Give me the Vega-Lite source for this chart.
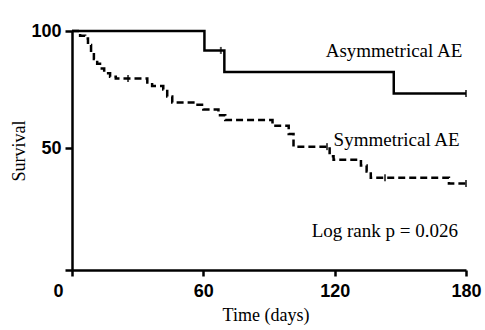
{
  "$schema": "https://vega.github.io/schema/vega-lite/v6.json",
  "width": 401,
  "height": 239,
  "autosize": "none",
  "padding": {"left": 65, "top": 31, "right": 19, "bottom": 60},
  "background": "white",
  "config": {
    "view": {"stroke": null},
    "axis": {
      "grid": false,
      "domainColor": "black",
      "domainWidth": 2.5,
      "tickColor": "black",
      "tickWidth": 2.5,
      "labelColor": "black",
      "labelFont": "Liberation Sans",
      "labelFontWeight": "bold",
      "labelFontSize": 18,
      "labelFlush": false,
      "labelOverlap": false,
      "labelBound": false,
      "titleColor": "black",
      "titleFont": "Liberation Serif",
      "titleFontWeight": "normal",
      "titleFontSize": 18
    }
  },
  "datasets": {
    "curves": [
      {"group": "Asymmetrical AE", "day": 0, "survival": 100},
      {"group": "Asymmetrical AE", "day": 60.5, "survival": 91.7},
      {"group": "Asymmetrical AE", "day": 69.6, "survival": 82.5},
      {"group": "Asymmetrical AE", "day": 147, "survival": 73.3},
      {"group": "Asymmetrical AE", "day": 180, "survival": 73.3},
      {"group": "Symmetrical AE", "day": 0, "survival": 100},
      {"group": "Symmetrical AE", "day": 3.7, "survival": 98},
      {"group": "Symmetrical AE", "day": 6, "survival": 96.8},
      {"group": "Symmetrical AE", "day": 7.3, "survival": 94},
      {"group": "Symmetrical AE", "day": 8.7, "survival": 91},
      {"group": "Symmetrical AE", "day": 10, "survival": 88},
      {"group": "Symmetrical AE", "day": 11.5, "survival": 86},
      {"group": "Symmetrical AE", "day": 12.8, "survival": 84},
      {"group": "Symmetrical AE", "day": 14.7, "survival": 82},
      {"group": "Symmetrical AE", "day": 17.4, "survival": 80.5},
      {"group": "Symmetrical AE", "day": 20, "survival": 79.7},
      {"group": "Symmetrical AE", "day": 34.4, "survival": 78},
      {"group": "Symmetrical AE", "day": 36.6, "survival": 76.5},
      {"group": "Symmetrical AE", "day": 41.7, "survival": 75},
      {"group": "Symmetrical AE", "day": 43.5, "survival": 72},
      {"group": "Symmetrical AE", "day": 45.8, "survival": 69.5},
      {"group": "Symmetrical AE", "day": 56.3, "survival": 68.5},
      {"group": "Symmetrical AE", "day": 60, "survival": 66.5},
      {"group": "Symmetrical AE", "day": 66.9, "survival": 64},
      {"group": "Symmetrical AE", "day": 70, "survival": 62},
      {"group": "Symmetrical AE", "day": 91.6, "survival": 59.5},
      {"group": "Symmetrical AE", "day": 99, "survival": 56},
      {"group": "Symmetrical AE", "day": 101.2, "survival": 50.6},
      {"group": "Symmetrical AE", "day": 117.7, "survival": 46.5},
      {"group": "Symmetrical AE", "day": 119.5, "survival": 45},
      {"group": "Symmetrical AE", "day": 132, "survival": 42.5},
      {"group": "Symmetrical AE", "day": 134.6, "survival": 40},
      {"group": "Symmetrical AE", "day": 136.5, "survival": 37.3},
      {"group": "Symmetrical AE", "day": 172.2, "survival": 34.8},
      {"group": "Symmetrical AE", "day": 180, "survival": 34.8}
    ],
    "censored": [
      {"group": "Asymmetrical AE", "day": 68, "survival": 91.7},
      {"group": "Asymmetrical AE", "day": 180, "survival": 73.3},
      {"group": "Symmetrical AE", "day": 25.6, "survival": 79.7},
      {"group": "Symmetrical AE", "day": 116.5, "survival": 50.6},
      {"group": "Symmetrical AE", "day": 143, "survival": 37.3},
      {"group": "Symmetrical AE", "day": 180, "survival": 34.8}
    ],
    "labels": [
      {"label": "Asymmetrical AE", "day": 115.9, "survival": 91.6},
      {"label": "Symmetrical AE", "day": 119.5, "survival": 53.3},
      {"label": "Log rank p = 0.026", "day": 109.5, "survival": 14.5}
    ]
  },
  "layer": [
    {
      "data": {"name": "curves"},
      "mark": {"type": "line", "interpolate": "step-after", "strokeWidth": 2.5, "color": "black", "clip": false},
      "encoding": {
        "x": {
          "field": "day",
          "type": "quantitative",
          "scale": {"domain": [-3.2, 180], "nice": false, "zero": false},
          "axis": {
            "values": [0, 60, 120, 180],
            "title": "Time (days)",
            "tickSize": 6,
            "labelPadding": 6,
            "titlePadding": 6,
            "labelOffset": {"condition": {"test": "datum.value == 0", "value": -14}, "value": 0}
          }
        },
        "y": {
          "field": "survival",
          "type": "quantitative",
          "scale": {"domain": [-2.1, 100], "nice": false, "zero": false},
          "axis": {
            "values": [50, 100],
            "title": "Survival",
            "offset": -7,
            "tickSize": 7,
            "labelPadding": 4,
            "titlePadding": 2
          }
        },
        "detail": {"field": "group"},
        "strokeDash": {
          "field": "group",
          "type": "nominal",
          "scale": {"domain": ["Asymmetrical AE", "Symmetrical AE"], "range": [[1, 0], [7, 4]]},
          "legend": null
        }
      }
    },
    {
      "data": {"name": "censored"},
      "mark": {"type": "tick", "orient": "vertical", "size": 7, "thickness": 2, "color": "black"},
      "encoding": {
        "x": {"field": "day", "type": "quantitative"},
        "y": {"field": "survival", "type": "quantitative"}
      }
    },
    {
      "data": {"name": "labels"},
      "mark": {"type": "text", "align": "left", "baseline": "middle", "font": "Liberation Serif", "fontSize": 19, "color": "black"},
      "encoding": {
        "x": {"field": "day", "type": "quantitative"},
        "y": {"field": "survival", "type": "quantitative"},
        "text": {"field": "label", "type": "nominal"}
      }
    }
  ]
}
